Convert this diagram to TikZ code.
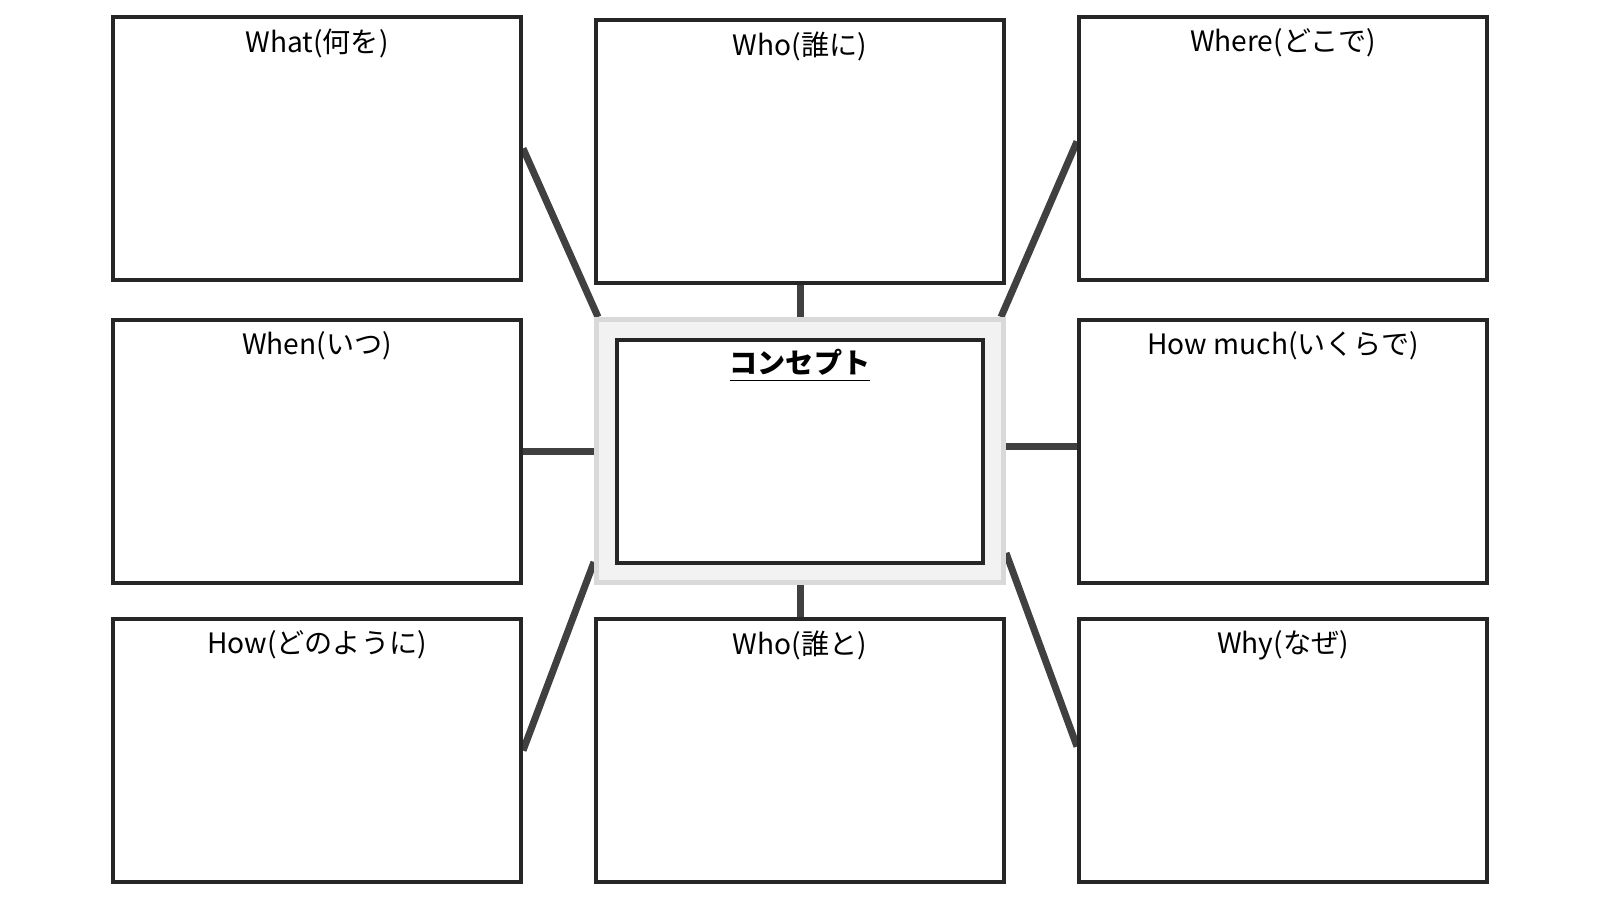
\documentclass[tikz,border=0pt]{standalone}
\usepackage{fontspec}
\setmainfont{Noto Sans CJK JP}
\usetikzlibrary{positioning,backgrounds}
\definecolor{boxline}{HTML}{262626}
\definecolor{linkgray}{HTML}{404040}
\definecolor{conceptfill}{HTML}{F2F2F2}
\definecolor{conceptline}{HTML}{D9D9D9}
\tikzset{
  frame/.style={rectangle, draw=boxline, line width=0.04cm, fill=white, minimum width=4.08cm, minimum height=2.63cm, inner sep=0pt},
  heading/.style={anchor=north, inner sep=0pt, yshift=-0.13cm, font=\fontsize{8pt}{9pt}\selectfont, text=black},
  link/.style={draw=linkgray, line width=0.07cm},
}

\begin{document}
\begin{tikzpicture}[gap/.style={node distance=0.71cm}]
            \useasboundingbox (0,0) rectangle (16,9);
            % centre
            \node[frame, draw=conceptline, fill=conceptfill, line width=0.05cm, minimum width=4.07cm] (concept) at (8.0,4.49) {};
            \node[frame, minimum width=3.66cm, minimum height=2.23cm] (core) at (concept.center) {};
            \node[heading, yshift=0.02cm, font=\fontsize{8pt}{9pt}\selectfont\bfseries] (core-t) at (core.north) {\underline{コンセプト}};

            % ring of boxes
            \node[frame, above=0.32cm of concept] (whom) {};
            \node[frame, left=0.71cm of whom, yshift=0.03cm] (what) {};
            \node[frame, right=0.71cm of whom, yshift=0.03cm] (where) {};
            \node[frame, left=0.71cm of concept] (when) {};
            \node[frame, right=0.71cm of concept] (howmuch) {};
            \node[frame, below=0.32cm of concept] (withwhom) {};
            \node[frame, left=0.71cm of withwhom] (how) {};
            \node[frame, right=0.71cm of withwhom] (why) {};

            \node[heading] (what-t) at (what.north) {What(何を)};
            \node[heading] (whom-t) at (whom.north) {Who(誰に)};
            \node[heading] (where-t) at (where.north) {Where(どこで)};
            \node[heading] (when-t) at (when.north) {When(いつ)};
            \node[heading] (howmuch-t) at (howmuch.north) {How much(いくらで)};
            \node[heading] (how-t) at (how.north) {How(どのように)};
            \node[heading] (withwhom-t) at (withwhom.north) {Who(誰と)};
            \node[heading] (why-t) at (why.north) {Why(なぜ)};

            \begin{scope}[on background layer]
             \draw [link] (what.east) to ([xshift=0.04cm]concept.north west);
             \draw [link] (whom.south) to (concept.north);
             \draw [link] ([yshift=0.07cm]where.west) to ([xshift=-0.05cm]concept.north east);
             \draw [link] (when.east) to (concept.west);
             \draw [link] ([yshift=0.05cm]concept.east) to ([yshift=0.05cm]howmuch.west);
             \draw [link] ([yshift=0.23cm]concept.south west) to (how.east);
             \draw [link] (concept.south) to (withwhom.north);
             \draw [link] ([yshift=0.32cm]concept.south east) to ([yshift=0.04cm]why.west);
            \end{scope}
         \end{tikzpicture}
\end{document}
